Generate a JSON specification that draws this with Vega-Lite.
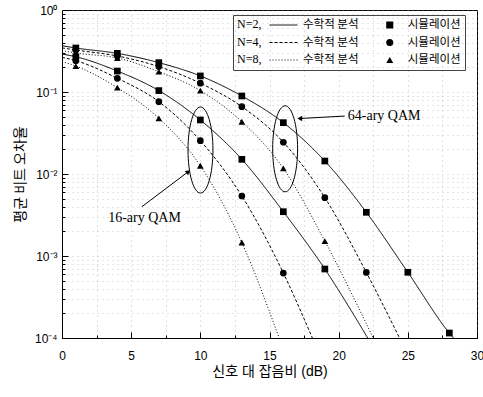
{
  "$schema": "https://vega.github.io/schema/vega-lite/v6.json",
  "width": 415,
  "height": 328,
  "autosize": {"type": "none"},
  "padding": {"left": 62, "top": 10, "right": 6, "bottom": 59},
  "background": "white",
  "config": {
    "view": {"stroke": "black", "strokeWidth": 1},
    "font": "Liberation Sans"
  },
  "datasets": {
    "theory": [
      {"mod": "64-QAM", "N": "N=2", "snr": 0, "ber": 0.367},
      {"mod": "64-QAM", "N": "N=2", "snr": 1, "ber": 0.344},
      {"mod": "64-QAM", "N": "N=2", "snr": 4, "ber": 0.296},
      {"mod": "64-QAM", "N": "N=2", "snr": 7, "ber": 0.228},
      {"mod": "64-QAM", "N": "N=2", "snr": 10, "ber": 0.157},
      {"mod": "64-QAM", "N": "N=2", "snr": 13, "ber": 0.0894},
      {"mod": "64-QAM", "N": "N=2", "snr": 16, "ber": 0.0423},
      {"mod": "64-QAM", "N": "N=2", "snr": 19, "ber": 0.0144},
      {"mod": "64-QAM", "N": "N=2", "snr": 22, "ber": 0.00341},
      {"mod": "64-QAM", "N": "N=2", "snr": 25, "ber": 0.000633},
      {"mod": "64-QAM", "N": "N=2", "snr": 28, "ber": 0.000115},
      {"mod": "64-QAM", "N": "N=2", "snr": 28.3, "ber": 0.0001},
      {"mod": "64-QAM", "N": "N=4", "snr": 0, "ber": 0.345},
      {"mod": "64-QAM", "N": "N=4", "snr": 1, "ber": 0.325},
      {"mod": "64-QAM", "N": "N=4", "snr": 4, "ber": 0.275},
      {"mod": "64-QAM", "N": "N=4", "snr": 7, "ber": 0.204},
      {"mod": "64-QAM", "N": "N=4", "snr": 10, "ber": 0.128},
      {"mod": "64-QAM", "N": "N=4", "snr": 13, "ber": 0.0662},
      {"mod": "64-QAM", "N": "N=4", "snr": 16, "ber": 0.0244},
      {"mod": "64-QAM", "N": "N=4", "snr": 19, "ber": 0.00514},
      {"mod": "64-QAM", "N": "N=4", "snr": 22, "ber": 0.00063},
      {"mod": "64-QAM", "N": "N=4", "snr": 24.4, "ber": 0.0001},
      {"mod": "64-QAM", "N": "N=8", "snr": 0, "ber": 0.32},
      {"mod": "64-QAM", "N": "N=8", "snr": 1, "ber": 0.299},
      {"mod": "64-QAM", "N": "N=8", "snr": 4, "ber": 0.26},
      {"mod": "64-QAM", "N": "N=8", "snr": 7, "ber": 0.177},
      {"mod": "64-QAM", "N": "N=8", "snr": 10, "ber": 0.104},
      {"mod": "64-QAM", "N": "N=8", "snr": 13, "ber": 0.0434},
      {"mod": "64-QAM", "N": "N=8", "snr": 16, "ber": 0.0117},
      {"mod": "64-QAM", "N": "N=8", "snr": 19, "ber": 0.00152},
      {"mod": "64-QAM", "N": "N=8", "snr": 22.5, "ber": 0.0001},
      {"mod": "16-QAM", "N": "N=2", "snr": 0, "ber": 0.29},
      {"mod": "16-QAM", "N": "N=2", "snr": 1, "ber": 0.269},
      {"mod": "16-QAM", "N": "N=2", "snr": 4, "ber": 0.18},
      {"mod": "16-QAM", "N": "N=2", "snr": 7, "ber": 0.104},
      {"mod": "16-QAM", "N": "N=2", "snr": 10, "ber": 0.0456},
      {"mod": "16-QAM", "N": "N=2", "snr": 13, "ber": 0.0151},
      {"mod": "16-QAM", "N": "N=2", "snr": 16, "ber": 0.00347},
      {"mod": "16-QAM", "N": "N=2", "snr": 19, "ber": 0.000694},
      {"mod": "16-QAM", "N": "N=2", "snr": 22.1, "ber": 0.0001},
      {"mod": "16-QAM", "N": "N=4", "snr": 0, "ber": 0.265},
      {"mod": "16-QAM", "N": "N=4", "snr": 1, "ber": 0.241},
      {"mod": "16-QAM", "N": "N=4", "snr": 4, "ber": 0.147},
      {"mod": "16-QAM", "N": "N=4", "snr": 7, "ber": 0.0762},
      {"mod": "16-QAM", "N": "N=4", "snr": 10, "ber": 0.0255},
      {"mod": "16-QAM", "N": "N=4", "snr": 13, "ber": 0.00539},
      {"mod": "16-QAM", "N": "N=4", "snr": 16, "ber": 0.00062},
      {"mod": "16-QAM", "N": "N=4", "snr": 18.1, "ber": 0.0001},
      {"mod": "16-QAM", "N": "N=8", "snr": 0, "ber": 0.235},
      {"mod": "16-QAM", "N": "N=8", "snr": 1, "ber": 0.207},
      {"mod": "16-QAM", "N": "N=8", "snr": 4, "ber": 0.113},
      {"mod": "16-QAM", "N": "N=8", "snr": 7, "ber": 0.0478},
      {"mod": "16-QAM", "N": "N=8", "snr": 10, "ber": 0.0126},
      {"mod": "16-QAM", "N": "N=8", "snr": 13, "ber": 0.00146},
      {"mod": "16-QAM", "N": "N=8", "snr": 15.7, "ber": 0.0001}
    ],
    "sim": [
      {"mod": "64-QAM", "Nsim": "N=2", "snr": 1, "ber": 0.344},
      {"mod": "64-QAM", "Nsim": "N=2", "snr": 4, "ber": 0.296},
      {"mod": "64-QAM", "Nsim": "N=2", "snr": 7, "ber": 0.228},
      {"mod": "64-QAM", "Nsim": "N=2", "snr": 10, "ber": 0.157},
      {"mod": "64-QAM", "Nsim": "N=2", "snr": 13, "ber": 0.0894},
      {"mod": "64-QAM", "Nsim": "N=2", "snr": 16, "ber": 0.0423},
      {"mod": "64-QAM", "Nsim": "N=2", "snr": 19, "ber": 0.0144},
      {"mod": "64-QAM", "Nsim": "N=2", "snr": 22, "ber": 0.00341},
      {"mod": "64-QAM", "Nsim": "N=2", "snr": 25, "ber": 0.000633},
      {"mod": "64-QAM", "Nsim": "N=2", "snr": 28, "ber": 0.000115},
      {"mod": "64-QAM", "Nsim": "N=4", "snr": 1, "ber": 0.325},
      {"mod": "64-QAM", "Nsim": "N=4", "snr": 4, "ber": 0.275},
      {"mod": "64-QAM", "Nsim": "N=4", "snr": 7, "ber": 0.204},
      {"mod": "64-QAM", "Nsim": "N=4", "snr": 10, "ber": 0.128},
      {"mod": "64-QAM", "Nsim": "N=4", "snr": 13, "ber": 0.0662},
      {"mod": "64-QAM", "Nsim": "N=4", "snr": 16, "ber": 0.0244},
      {"mod": "64-QAM", "Nsim": "N=4", "snr": 19, "ber": 0.00514},
      {"mod": "64-QAM", "Nsim": "N=4", "snr": 22, "ber": 0.00063},
      {"mod": "64-QAM", "Nsim": "N=8", "snr": 1, "ber": 0.299},
      {"mod": "64-QAM", "Nsim": "N=8", "snr": 4, "ber": 0.26},
      {"mod": "64-QAM", "Nsim": "N=8", "snr": 7, "ber": 0.177},
      {"mod": "64-QAM", "Nsim": "N=8", "snr": 10, "ber": 0.104},
      {"mod": "64-QAM", "Nsim": "N=8", "snr": 13, "ber": 0.0434},
      {"mod": "64-QAM", "Nsim": "N=8", "snr": 16, "ber": 0.0117},
      {"mod": "64-QAM", "Nsim": "N=8", "snr": 19, "ber": 0.00152},
      {"mod": "16-QAM", "Nsim": "N=2", "snr": 1, "ber": 0.269},
      {"mod": "16-QAM", "Nsim": "N=2", "snr": 4, "ber": 0.18},
      {"mod": "16-QAM", "Nsim": "N=2", "snr": 7, "ber": 0.104},
      {"mod": "16-QAM", "Nsim": "N=2", "snr": 10, "ber": 0.0456},
      {"mod": "16-QAM", "Nsim": "N=2", "snr": 13, "ber": 0.0151},
      {"mod": "16-QAM", "Nsim": "N=2", "snr": 16, "ber": 0.00347},
      {"mod": "16-QAM", "Nsim": "N=2", "snr": 19, "ber": 0.000694},
      {"mod": "16-QAM", "Nsim": "N=4", "snr": 1, "ber": 0.241},
      {"mod": "16-QAM", "Nsim": "N=4", "snr": 4, "ber": 0.147},
      {"mod": "16-QAM", "Nsim": "N=4", "snr": 7, "ber": 0.0762},
      {"mod": "16-QAM", "Nsim": "N=4", "snr": 10, "ber": 0.0255},
      {"mod": "16-QAM", "Nsim": "N=4", "snr": 13, "ber": 0.00539},
      {"mod": "16-QAM", "Nsim": "N=4", "snr": 16, "ber": 0.00062},
      {"mod": "16-QAM", "Nsim": "N=8", "snr": 1, "ber": 0.207},
      {"mod": "16-QAM", "Nsim": "N=8", "snr": 4, "ber": 0.113},
      {"mod": "16-QAM", "Nsim": "N=8", "snr": 7, "ber": 0.0478},
      {"mod": "16-QAM", "Nsim": "N=8", "snr": 10, "ber": 0.0126},
      {"mod": "16-QAM", "Nsim": "N=8", "snr": 13, "ber": 0.00146}
    ],
    "ellipses": [
      {"group": "16-ary QAM", "snr": 10.01, "ber": 0.0196},
      {"group": "64-ary QAM", "snr": 16.13, "ber": 0.0203}
    ],
    "arrows": [
      {"group": "64-ary QAM", "snr": 20.44, "ber": 0.0509, "snr2": 17.19, "ber2": 0.0475},
      {"group": "16-ary QAM", "snr": 5.77, "ber": 0.00399, "snr2": 9.13, "ber2": 0.01067}
    ],
    "labels": [
      {"text": "64-ary QAM", "snr": 20.66, "ber": 0.0509},
      {"text": "16-ary QAM", "snr": 3.34, "ber": 0.0029}
    ]
  },
  "encoding": {
    "x": {
      "field": "snr",
      "type": "quantitative",
      "scale": {"domain": [0, 30], "nice": false, "zero": false},
      "axis": {
        "title": "신호 대 잡음비 (dB)",
        "titleFont": "Liberation Sans, Noto Sans CJK KR",
        "titleFontSize": 14,
        "titleFontWeight": "normal",
        "titleColor": "black",
        "titlePadding": 3,
        "values": [0, 2.5, 5, 7.5, 10, 12.5, 15, 17.5, 20, 22.5, 25, 27.5, 30],
        "labelExpr": "datum.value % 5 == 0 ? datum.label : ''",
        "labelFont": "Liberation Sans",
        "labelFontSize": 12,
        "labelColor": "black",
        "labelPadding": 18,
        "labelFlush": false,
        "tickSize": {"condition": {"test": "datum.value % 5 == 0", "value": -6}, "value": -3},
        "tickColor": "black",
        "domainColor": "black",
        "grid": true,
        "gridColor": "#999999",
        "gridDash": [1, 4],
        "gridOpacity": 0.6
      }
    },
    "y": {
      "field": "ber",
      "type": "quantitative",
      "scale": {"type": "log", "domain": [0.0001, 1], "nice": false},
      "axis": {
        "title": "평균 비트 오차율",
        "titleFont": "Noto Sans CJK KR",
        "titleFontSize": 14,
        "titleFontWeight": "normal",
        "titleColor": "black",
        "titlePadding": 7,
        "values": [0.0001, 0.0002, 0.0003, 0.0004, 0.0005, 0.0006, 0.0007, 0.0008, 0.0009, 0.001, 0.002, 0.003, 0.004, 0.005, 0.006, 0.007, 0.008, 0.009, 0.01, 0.02, 0.03, 0.04, 0.05, 0.06, 0.07, 0.08, 0.09, 0.1, 0.2, 0.3, 0.4, 0.5, 0.6, 0.7, 0.8, 0.9, 1],
        "labelExpr": "abs(log(datum.value)/LN10 - round(log(datum.value)/LN10)) < 0.001 ? (round(log(datum.value)/LN10) == 0 ? '10⁰' : round(log(datum.value)/LN10) == -1 ? '10⁻¹' : round(log(datum.value)/LN10) == -2 ? '10⁻²' : round(log(datum.value)/LN10) == -3 ? '10⁻³' : '10⁻⁴') : ''",
        "labelFont": "Liberation Sans",
        "labelFontSize": 12,
        "labelColor": "black",
        "labelPadding": 11,
        "labelFlush": false,
        "tickSize": {"condition": {"test": "abs(log(datum.value)/LN10 - round(log(datum.value)/LN10)) < 0.001", "value": -6}, "value": -3},
        "tickColor": "black",
        "domainColor": "black",
        "grid": true,
        "gridColor": "#999999",
        "gridDash": [1, 4],
        "gridOpacity": 0.5
      }
    }
  },
  "layer": [
    {
      "data": {"name": "theory"},
      "mark": {"type": "line", "interpolate": "monotone", "color": "black", "strokeWidth": 1, "clip": true},
      "encoding": {
        "detail": {"field": "mod", "type": "nominal"},
        "strokeDash": {
          "field": "N",
          "type": "nominal",
          "scale": {"range": [[1, 0], [3, 2], [1, 2]]},
          "legend": {
            "title": null,
            "orient": "none",
            "legendX": 203,
            "legendY": 5,
            "padding": 4,
            "symbolType": "stroke",
            "symbolSize": 784,
            "symbolStrokeColor": "black",
            "symbolStrokeWidth": 1,
            "symbolOffset": 0,
            "labelOffset": 5,
            "clipHeight": 12,
            "rowPadding": 5.5,
            "labelLimit": 200,
            "labelFont": "Noto Sans CJK KR",
            "labelFontSize": 11.5,
            "labelColor": "black",
            "labelExpr": "'수학적 분석'"
          }
        }
      }
    },
    {
      "data": {"name": "sim"},
      "mark": {"type": "point", "filled": true, "color": "black", "size": 45, "opacity": 1},
      "encoding": {
        "shape": {
          "field": "Nsim",
          "type": "nominal",
          "scale": {"range": ["square", "circle", "triangle-up"]},
          "legend": {
            "title": ["  N=2,", "  N=4,", "  N=8,"],
            "titleOrient": "left",
            "titleAnchor": "start",
            "titleBaseline": "top",
            "titleAlign": "left",
            "titleFont": "Liberation Serif",
            "titleFontSize": 12,
            "titleFontWeight": "normal",
            "titleColor": "black",
            "titleLineHeight": 17.5,
            "titleLimit": 0,
            "titlePadding": 122,
            "orient": "none",
            "legendX": 171,
            "legendY": 5,
            "padding": 4,
            "strokeColor": "#444444",
            "symbolSize": 50,
            "symbolFillColor": "black",
            "symbolStrokeWidth": 0,
            "symbolOffset": 0,
            "labelOffset": 12.25,
            "clipHeight": 12,
            "rowPadding": 5.5,
            "labelLimit": 200,
            "labelFont": "Noto Sans CJK KR",
            "labelFontSize": 11.5,
            "labelColor": "black",
            "labelExpr": "'시뮬레이션'"
          }
        }
      }
    },
    {
      "data": {"name": "ellipses"},
      "mark": {"type": "point", "shape": "M0,-1C0.16,-1,0.29,-0.552,0.29,0C0.29,0.552,0.16,1,0,1C-0.16,1,-0.29,0.552,-0.29,0C-0.29,-0.552,-0.16,-1,0,-1Z", "size": 7396, "filled": false, "color": "black", "strokeWidth": 1, "opacity": 1}
    },
    {
      "data": {"name": "arrows"},
      "mark": {"type": "rule", "color": "black", "strokeWidth": 1},
      "encoding": {
        "x2": {"field": "snr2"},
        "y2": {"field": "ber2"}
      }
    },
    {
      "data": {"name": "arrows"},
      "transform": [{"filter": "datum.group == '64-ary QAM'"}],
      "mark": {"type": "point", "shape": "triangle-left", "size": 30, "filled": true, "color": "black", "opacity": 1},
      "encoding": {
        "x": {"field": "snr2", "type": "quantitative"},
        "y": {"field": "ber2", "type": "quantitative"}
      }
    },
    {
      "data": {"name": "arrows"},
      "transform": [{"filter": "datum.group == '16-ary QAM'"}],
      "mark": {"type": "point", "shape": "triangle-up", "angle": 53, "size": 30, "filled": true, "color": "black", "opacity": 1},
      "encoding": {
        "x": {"field": "snr2", "type": "quantitative"},
        "y": {"field": "ber2", "type": "quantitative"}
      }
    },
    {
      "data": {"name": "labels"},
      "mark": {"type": "text", "align": "left", "baseline": "middle", "font": "Liberation Serif", "fontSize": 14, "color": "black"},
      "encoding": {
        "text": {"field": "text", "type": "nominal"}
      }
    }
  ]
}
